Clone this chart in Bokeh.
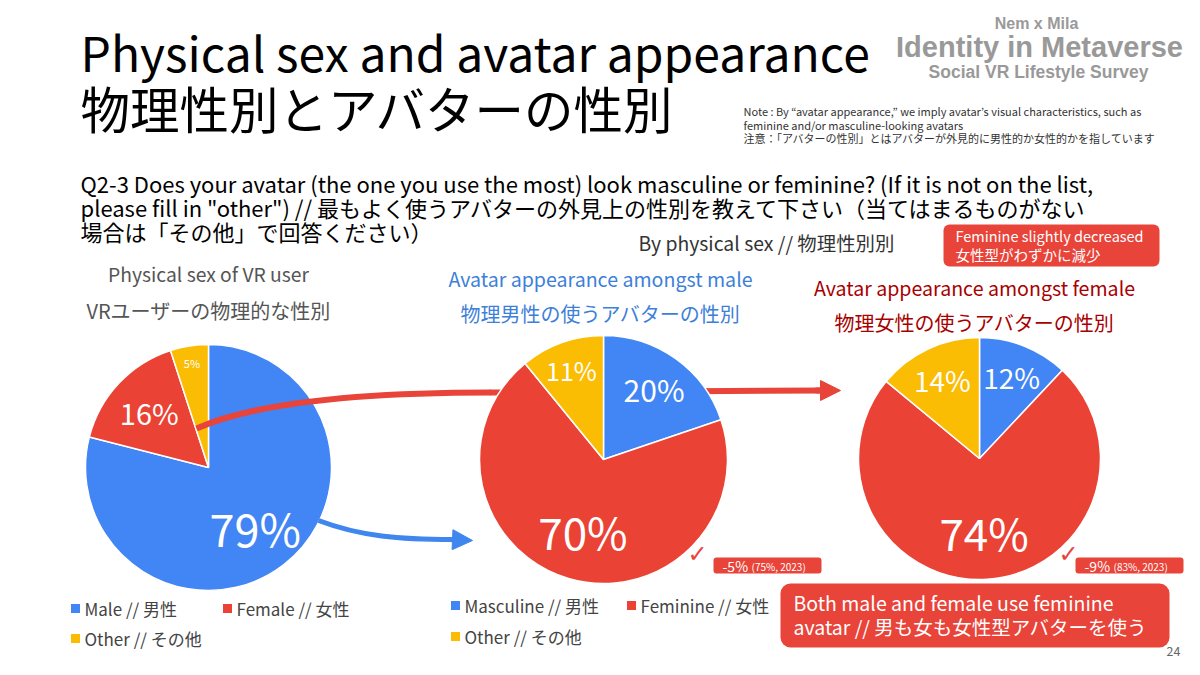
import math
from bokeh.plotting import figure
from bokeh.models import Range1d, Arrow, NormalHead
from bokeh.core.properties import value
from bokeh.embed import file_html
from bokeh.resources import INLINE

# ---------------- data ----------------
category_colors = ["#4285F4", "#EA4335", "#FBBC04"]
sex_labels = ["Male // 男性", "Female // 女性", "Other // その他"]
sex_values = [79, 16, 5]
avatar_labels = ["Masculine // 男性", "Feminine // 女性", "Other // その他"]
male_avatar_values = [20, 70, 11]
female_avatar_values = [12, 74, 14]
change_main = ["-5%", "-9%"]
change_prev = ["(75%, 2023)", "(83%, 2023)"]

W, H = 1184, 659
JP = "Noto Sans CJK JP"
LOGO = "Liberation Sans"


def X(px):
    return px


def Y(py):
    return H - py


p = figure(width=W, height=H, x_range=Range1d(0, W), y_range=Range1d(0, H),
           output_backend="svg", toolbar_location=None, min_border=0)
p.axis.visible = False
p.grid.visible = False
p.outline_line_color = None
p.background_fill_color = "white"
p.border_fill_color = "white"


def txt(px, py, s, size, color="#000000", font=JP, style="normal",
        align="left", baseline="middle"):
    p.text(x=[X(px)], y=[Y(py)], text=[s], text_font=value(font),
           text_font_size=f"{size}px", text_color=color, text_font_style=style,
           text_align=align, text_baseline=baseline)


def box(x0, y0, x1, y1, color, radius):
    p.quad(left=[X(x0)], right=[X(x1)], top=[Y(y0)], bottom=[Y(y1)],
           fill_color=color, line_color=None, border_radius=radius)


def pie(cx, cy, r, values, label_r, label_sizes):
    total = float(sum(values))
    c = 0.0
    for v, col, lr, fs in zip(values, category_colors, label_r, label_sizes):
        a0 = math.pi / 2 - 2 * math.pi * c / total
        a1 = math.pi / 2 - 2 * math.pi * (c + v) / total
        p.wedge(x=[X(cx)], y=[Y(cy)], radius=r, radius_units="screen",
                start_angle=a0, end_angle=a1, direction="clock",
                fill_color=col, line_color="white", line_width=1.5)
        mid = (a0 + a1) / 2
        lx = cx + lr * r * math.cos(mid)
        ly = cy - lr * r * math.sin(mid)
        p.text(x=[X(lx)], y=[Y(ly)], text=[f"{v}%"], text_font=value(JP),
               text_font_size=f"{fs}px", text_color="white",
               text_align="center", text_baseline="middle")
        c += v


RED = "#E8443A"
BLUE = "#3F86EE"

# ---------------- pies & arrows ----------------
pie(208, 467, 123, sex_values, [0.62, 0.66, 0.86], [45, 29, 11])

# red arrow (from female slice to female pie)
p.bezier(x0=[X(196)], y0=[Y(428)], x1=[X(490)], y1=[Y(392)],
         cx0=[X(255)], cy0=[Y(402)], cx1=[X(360)], cy1=[Y(392)],
         line_color=RED, line_width=6)
p.segment(x0=[X(489)], y0=[Y(392)], x1=[X(824)], y1=[Y(390)],
          line_color=RED, line_width=6)
p.add_layout(Arrow(end=NormalHead(size=20, fill_color=RED, line_color=RED),
                   x_start=X(815), y_start=Y(390), x_end=X(840), y_end=Y(390),
                   line_color=RED, line_width=6))
# blue arrow (from male slice to male pie)
p.bezier(x0=[X(318)], y0=[Y(520)], x1=[X(452)], y1=[Y(539)],
         cx0=[X(360)], cy0=[Y(536)], cx1=[X(400)], cy1=[Y(539)],
         line_color=BLUE, line_width=5)
p.add_layout(Arrow(end=NormalHead(size=20, fill_color=BLUE, line_color=BLUE),
                   x_start=X(448), y_start=Y(539), x_end=X(472), y_end=Y(540),
                   line_color=BLUE, line_width=5))

pie(603, 459, 124, male_avatar_values, [0.7, 0.6, 0.77], [30, 44, 25])
pie(979, 458, 121, female_avatar_values, [0.72, 0.61, 0.72], [28, 44, 28])

# ---------------- titles ----------------
txt(80, 50, "Physical sex and avatar appearance", 48)
txt(80, 107, "物理性別とアバターの性別", 49.5)

txt(1036, 23, "Nem x Mila", 16, "#999999", LOGO, "bold", "center")
txt(1039, 46, "Identity in Metaverse", 29, "#999999", LOGO, "bold", "center")
txt(1038, 71, "Social VR Lifestyle Survey", 17.5, "#999999", LOGO, "bold", "center")

txt(743, 110, "Note : By “avatar appearance,” we imply avatar’s visual characteristics, such as", 11, "#333333")
txt(743, 124, "feminine and/or masculine-looking avatars", 11, "#333333")
txt(743, 137, "注意：「アバターの性別」とはアバターが外見的に男性的か女性的かを指しています", 11, "#333333")

txt(80, 182, "Q2-3 Does your avatar (the one you use the most) look masculine or feminine? (If it is not on the list,", 22)
txt(80, 206, "please fill in \"other\") // 最もよく使うアバターの外見上の性別を教えて下さい（当てはまるものがない", 22)
txt(80, 230, "場合は「その他」で回答ください）", 22)

txt(638, 242, "By physical sex // 物理性別別", 19.4, "#333333")

txt(208, 273, "Physical sex of VR user", 19.3, "#555555", align="center")
txt(208, 310, "VRユーザーの物理的な性別", 20, "#555555", align="center")
txt(600, 278, "Avatar appearance amongst male", 19.6, "#3D7FD9", align="center")
txt(600, 313, "物理男性の使うアバターの性別", 20, "#3D7FD9", align="center")
txt(974, 287, "Avatar appearance amongst female", 19.6, "#A80000", align="center")
txt(974, 322, "物理女性の使うアバターの性別", 20, "#A80000", align="center")

# callout boxes
box(943, 224, 1159, 266, RED, 6)
txt(955, 235, "Feminine slightly decreased", 14.5, "white")
txt(955, 254, "女性型がわずかに減少", 14.5, "white")

for bx0, check_x, main, prev in zip([713, 1075], [697, 1068], change_main, change_prev):
    box(bx0, 557, bx0 + 108, 573, RED, 3)
    txt(bx0 + 9, 565, main, 14, "white")
    txt(bx0 + 38, 566, prev, 10, "white")
    txt(check_x, 553, "✓", 24, RED, "DejaVu Sans", align="center")

box(780, 583, 1169, 647, RED, 10)
txt(793, 602, "Both male and female use feminine", 19.5, "white")
txt(793, 626, "avatar // 男も女も女性型アバターを使う", 19.5, "white")

txt(1166, 650, "24", 12.5, "#666666")

# ---------------- legends ----------------
leg1_pos = [(75, 608), (227, 608), (75, 638)]
leg2_pos = [(455, 605), (631, 605), (455, 636)]
for labels, positions in ((sex_labels, leg1_pos), (avatar_labels, leg2_pos)):
    p.scatter(x=[X(px) for px, _ in positions], y=[Y(py) for _, py in positions],
              marker="square", size=9, fill_color=category_colors, line_color=None)
    for lab, (px, py) in zip(labels, positions):
        txt(px + 9, py, lab, 17, "#444444")

open("out.html", "w").write(file_html(p, INLINE))
